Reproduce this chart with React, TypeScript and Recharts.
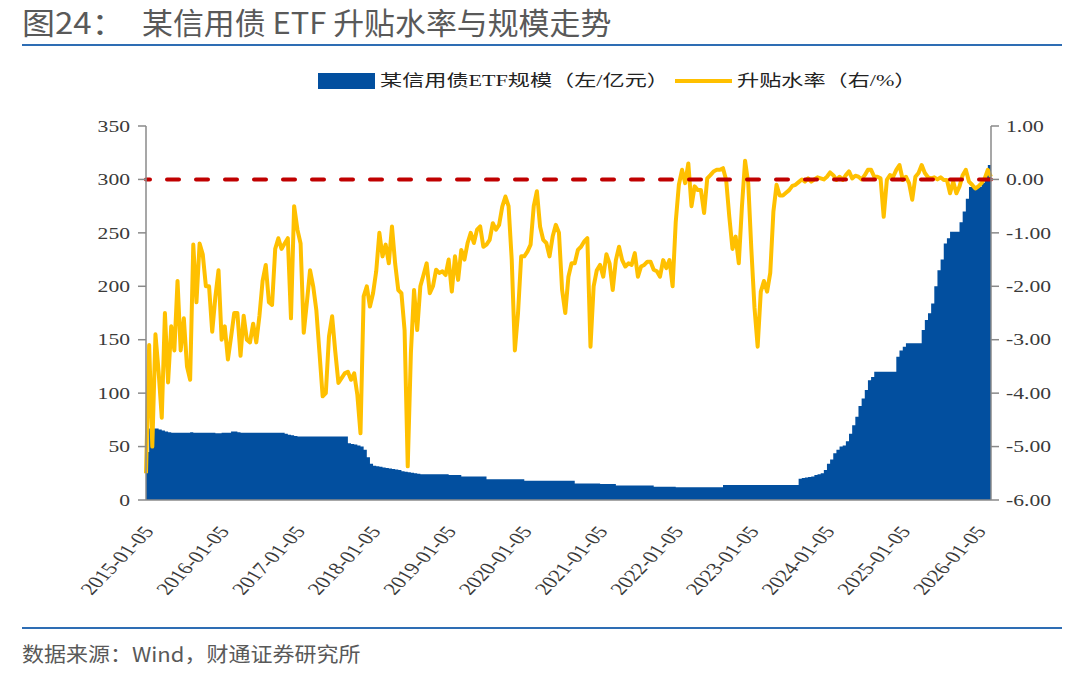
import React from 'react';
import { ComposedChart, Area, Line, XAxis, YAxis, ReferenceLine } from 'recharts';

// Half-month sampling: each yearly list starts on Jan 5 of that year.
const YEARS = [2015, 2016, 2017, 2018, 2019, 2020, 2021, 2022, 2023, 2024, 2025, 2026];

// ETF size (亿元, left axis)
const size2015 = [45, 67, 67, 67, 66, 65, 64, 63.5, 63, 63, 63, 63, 63, 63, 63.5, 63, 63, 63, 63, 63, 63, 63, 62.5, 62.5];
const size2016 = [63, 63, 63, 64, 64, 63.5, 63, 63, 63, 63, 63, 63, 63, 63, 63, 63, 63, 63, 63, 63, 62, 61, 60.5, 60];
const size2017 = [59.5, 59.5, 59.5, 59.5, 59.5, 59.5, 59.5, 59.5, 59.5, 59.5, 59.5, 59.5, 59.5, 59.5, 59.5, 59.5, 53, 52.5, 52, 51, 50, 47, 40, 34];
const size2018 = [32, 31.5, 31, 30.5, 30, 29.5, 29, 28.5, 28, 27, 26.5, 26, 25.5, 25, 24.5, 24, 24, 24, 24, 24, 24, 24, 24, 24];
const size2019 = [23.5, 23.5, 23.5, 23.5, 22, 22, 22, 22, 22, 22, 22, 22, 19.5, 19.5, 19.5, 19.5, 19.5, 19.5, 19.5, 19.5, 19.5, 19.5, 19.5, 19.5];
const size2020 = [18, 18, 18, 18, 18, 18, 18, 18, 18, 18, 18, 18, 18, 18, 18, 18, 15.5, 15.5, 15.5, 15.5, 15.5, 15.5, 15.5, 15.5];
const size2021 = [15, 15, 15, 15, 15, 13.5, 13.5, 13.5, 13.5, 13.5, 13.5, 13.5, 13.5, 13.5, 13.5, 13.5, 13.5, 12.5, 12.5, 12.5, 12.5, 12.5, 12.5, 12.5];
const size2022 = [12, 12, 12, 12, 12, 12, 12, 12, 12, 12, 12, 12, 12, 12, 12, 14, 14, 14, 14, 14, 14, 14, 14, 14];
const size2023 = [14, 14, 14, 14, 14, 14, 14, 14, 14, 14, 14, 14, 14, 14, 14, 20, 20.5, 21, 21.5, 22, 23.4, 24, 25, 28];
const size2024 = [34, 38, 43.7, 47, 50, 51, 55, 62, 70, 78, 88, 95, 103, 112, 115, 120, 120, 120, 120, 120, 120, 120, 134, 140];
const size2025 = [143.5, 146.6, 146.6, 146.6, 146.6, 146.6, 159, 168.5, 174.7, 184, 200, 215, 225, 240, 245, 251, 251, 251, 260, 270, 282, 293, 293, 293];
const size2026 = [293, 296.6, 304, 313.5, 314];

// Premium / discount rate (%, right axis)
const rate2015 = [-5.5, -3.1, -5.0, -2.9, -3.6, -4.46, -2.5, -3.8, -2.75, -3.2, -1.9, -3.2, -2.6, -3.5, -3.75, -1.22, -2.3, -1.2, -1.4, -2.0, -2.0, -2.85, -2.2, -1.7];
const rate2016 = [-3.0, -2.75, -3.37, -2.95, -2.5, -2.5, -3.3, -2.55, -3.0, -3.05, -2.7, -3.05, -2.55, -1.9, -1.6, -2.3, -2.35, -1.3, -1.1, -1.3, -1.2, -1.1, -2.6, -0.5];
const rate2017 = [-0.94, -1.2, -2.87, -2.3, -1.7, -2.0, -2.45, -3.25, -4.06, -4.0, -2.94, -2.56, -3.22, -3.81, -3.72, -3.63, -3.6, -3.75, -3.63, -4.03, -4.75, -2.19, -2.0, -2.38];
const rate2018 = [-2.13, -1.72, -1.0, -1.44, -1.22, -1.57, -0.88, -1.57, -2.07, -2.13, -2.82, -5.37, -3.25, -2.07, -2.82, -2.0, -1.79, -1.57, -2.13, -2.0, -1.69, -1.75, -1.72, -1.79];
const rate2019 = [-1.5, -2.1, -1.44, -1.88, -1.32, -1.5, -1.19, -1.0, -1.19, -0.94, -0.88, -1.26, -1.22, -1.13, -0.82, -0.94, -0.85, -0.51, -0.32, -0.5, -1.5, -3.2, -2.5, -1.44];
const rate2020 = [-1.44, -1.35, -1.22, -0.5, -0.22, -0.88, -1.13, -1.19, -1.44, -1.07, -0.85, -1.0, -2.07, -2.5, -1.82, -1.57, -1.57, -1.32, -1.26, -1.16, -1.1, -3.13, -2.0, -1.7];
const rate2021 = [-1.6, -1.82, -1.4, -1.57, -2.07, -1.51, -1.26, -1.51, -1.63, -1.57, -1.6, -1.38, -1.82, -1.63, -1.6, -1.54, -1.54, -1.69, -1.72, -1.82, -1.51, -1.66, -1.51, -2.0];
const rate2022 = [-0.8, -0.1, 0.18, -0.07, 0.3, -0.5, -0.13, -0.2, -0.2, -0.63, 0.02, 0.08, 0.15, 0.18, 0.18, 0.21, -0.01, -0.7, -1.3, -1.07, -1.57, -0.51, 0.35, -0.07];
const rate2023 = [-1.3, -2.4, -3.13, -2.1, -1.9, -2.1, -1.75, -0.6, -0.1, -0.3, -0.3, -0.25, -0.2, -0.12, -0.1, -0.05, 0.0, -0.04, 0.02, -0.04, 0.0, 0.04, 0.02, 0.0];
const rate2024 = [0.05, 0.13, 0.08, -0.01, 0.05, -0.01, 0.08, 0.15, 0.02, 0.07, 0.05, 0.0, 0.08, 0.18, 0.18, 0.05, 0.05, 0.02, -0.7, -0.01, 0.08, 0.05, 0.18, 0.27];
const rate2025 = [-0.01, 0.05, -0.07, -0.38, 0.05, 0.12, 0.27, 0.12, 0.04, 0.02, 0.04, 0.0, 0.04, -0.01, -0.01, -0.26, -0.04, -0.26, -0.13, 0.08, 0.18, -0.04, -0.1, -0.17];
const rate2026 = [-0.13, -0.07, 0.02, 0.18, 0.05];

const SIZE_BY_YEAR = [size2015, size2016, size2017, size2018, size2019, size2020, size2021, size2022, size2023, size2024, size2025, size2026];
const RATE_BY_YEAR = [rate2015, rate2016, rate2017, rate2018, rate2019, rate2020, rate2021, rate2022, rate2023, rate2024, rate2025, rate2026];

const DATE_TICKS = ['2015-01-05', '2016-01-05', '2017-01-05', '2018-01-05', '2019-01-05', '2020-01-05', '2021-01-05', '2022-01-05', '2023-01-05', '2024-01-05', '2025-01-05', '2026-01-05'];
const SIZE_TICKS = [0, 50, 100, 150, 200, 250, 300, 350];
const RATE_TICKS = [-6, -5, -4, -3, -2, -1, 0, 1];

const TITLE_NO = '图24：';
const TITLE = '某信用债 ETF 升贴水率与规模走势';
const LEGEND_SIZE = '某信用债ETF规模（左/亿元）';
const LEGEND_RATE = '升贴水率（右/%）';
const SOURCE = '数据来源：Wind，财通证券研究所';

const HALF_MONTH = (365.25 / 24) * 86400000;

const rows = YEARS.flatMap((year, i) =>
  SIZE_BY_YEAR[i].map((size, k) => ({
    t: Date.UTC(year, 0, 5) + k * HALF_MONTH,
    size,
    rate: RATE_BY_YEAR[i][k],
  }))
);

const dateTicks = DATE_TICKS.map((d) => Date.parse(d));
const labelOf = (v: number) => DATE_TICKS[dateTicks.indexOf(v)] ?? '';

const BLUE = '#024F9F';
const GOLD = '#FFC000';
const RED = '#C00000';
const AXIS = '#8A8A8A';
const TEXT = '#3A3A3A';
const SERIF = '"Liberation Serif", "Times New Roman", "Noto Sans CJK SC", serif';
const SANS = '"Noto Sans CJK SC", "Noto Sans", sans-serif';
const SX = 1.35; // chart text is drawn horizontally widened

function NumTick(props: any) {
  const { x, y, payload, textAnchor, digits } = props;
  return (
    <text
      transform={`translate(${x},${y}) scale(${SX},1)`}
      textAnchor={textAnchor}
      dy="0.36em"
      fontSize={16}
      fontFamily={SERIF}
      fill={TEXT}
    >
      {Number(payload.value).toFixed(digits)}
    </text>
  );
}

function DateTick(props: any) {
  const { x, y, payload } = props;
  return (
    <g transform={`translate(${x + 2},${y + 20})`}>
      <text
        transform={`scale(${SX},1) rotate(-54)`}
        textAnchor="end"
        dy="0.36em"
        fontSize={17}
        fontFamily={SERIF}
        fill={TEXT}
      >
        {labelOf(payload.value)}
      </text>
    </g>
  );
}

const legendText: React.CSSProperties = {
  position: 'absolute',
  top: 70,
  fontFamily: SERIF,
  fontSize: 16.4,
  lineHeight: '22px',
  color: '#222',
  whiteSpace: 'pre',
  transform: `scaleX(${SX})`,
  transformOrigin: 'left center',
};

export default function App() {
  return (
    <div style={{ position: 'absolute', left: 0, top: 0, width: 1080, height: 680, background: '#fff', overflow: 'hidden' }}>
      <ComposedChart width={1080} height={680} data={rows} margin={{ top: 126, right: 29, bottom: 80, left: 0 }}>
        <XAxis
          dataKey="t"
          type="number"
          domain={['dataMin', 'dataMax']}
          ticks={dateTicks}
          tick={<DateTick />}
          tickLine={false}
          axisLine={{ stroke: AXIS, strokeWidth: 1.5 }}
          height={100}
          interval={0}
        />
        <YAxis
          yAxisId="left"
          domain={[0, 350]}
          ticks={SIZE_TICKS}
          width={146}
          tickSize={8}
          tickMargin={8}
          tick={(p: any) => <NumTick {...p} digits={0} />}
          tickLine={{ stroke: AXIS, strokeWidth: 1.5 }}
          axisLine={{ stroke: AXIS, strokeWidth: 1.5 }}
          interval={0}
        />
        <YAxis
          yAxisId="right"
          orientation="right"
          domain={[-6, 1]}
          ticks={RATE_TICKS}
          width={60}
          tickSize={8}
          tickMargin={7}
          tick={(p: any) => <NumTick {...p} digits={2} />}
          tickLine={{ stroke: AXIS, strokeWidth: 1.5 }}
          axisLine={{ stroke: AXIS, strokeWidth: 1.5 }}
          interval={0}
        />
        <Area
          yAxisId="left"
          type="stepAfter"
          dataKey="size"
          stroke="none"
          fill={BLUE}
          fillOpacity={1}
          isAnimationActive={false}
        />
        <Line
          yAxisId="right"
          type="linear"
          dataKey="rate"
          stroke={GOLD}
          strokeWidth={4}
          strokeLinejoin="round"
          dot={false}
          activeDot={false}
          isAnimationActive={false}
        />
        <ReferenceLine
          yAxisId="right"
          y={0}
          stroke={RED}
          strokeWidth={4}
          strokeDasharray="12 17"
          strokeLinecap="round"
        />
      </ComposedChart>

      {/* title */}
      <div style={{ position: 'absolute', left: 22, top: 2, fontFamily: SANS, fontSize: 30, color: '#595959', whiteSpace: 'pre', lineHeight: '38px' }}>
        <span style={{ display: 'inline-block', transform: 'scaleX(1.1)', transformOrigin: 'left center' }}>{TITLE_NO}</span>
        <span style={{ position: 'absolute', left: 120, top: 0, display: 'inline-block', transform: 'scaleX(1.03)', transformOrigin: 'left center' }}>{TITLE}</span>
      </div>
      <div style={{ position: 'absolute', left: 22, top: 44, width: 1040, height: 2, background: '#2E6DB4' }} />

      {/* legend */}
      <div style={{ position: 'absolute', left: 318, top: 73, width: 57, height: 16, background: BLUE }} />
      <div style={{ ...legendText, left: 380 }}>{LEGEND_SIZE}</div>
      <div style={{ position: 'absolute', left: 675, top: 79, width: 57, height: 4, background: GOLD }} />
      <div style={{ ...legendText, left: 737 }}>{LEGEND_RATE}</div>

      {/* source */}
      <div style={{ position: 'absolute', left: 22, top: 627, width: 1040, height: 2, background: '#2E6DB4' }} />
      <div style={{ position: 'absolute', left: 22, top: 639, fontFamily: SANS, fontSize: 20, color: '#595959', whiteSpace: 'pre', lineHeight: '30px', transform: 'scaleX(1.1)', transformOrigin: 'left center' }}>
        {SOURCE}
      </div>
    </div>
  );
}
